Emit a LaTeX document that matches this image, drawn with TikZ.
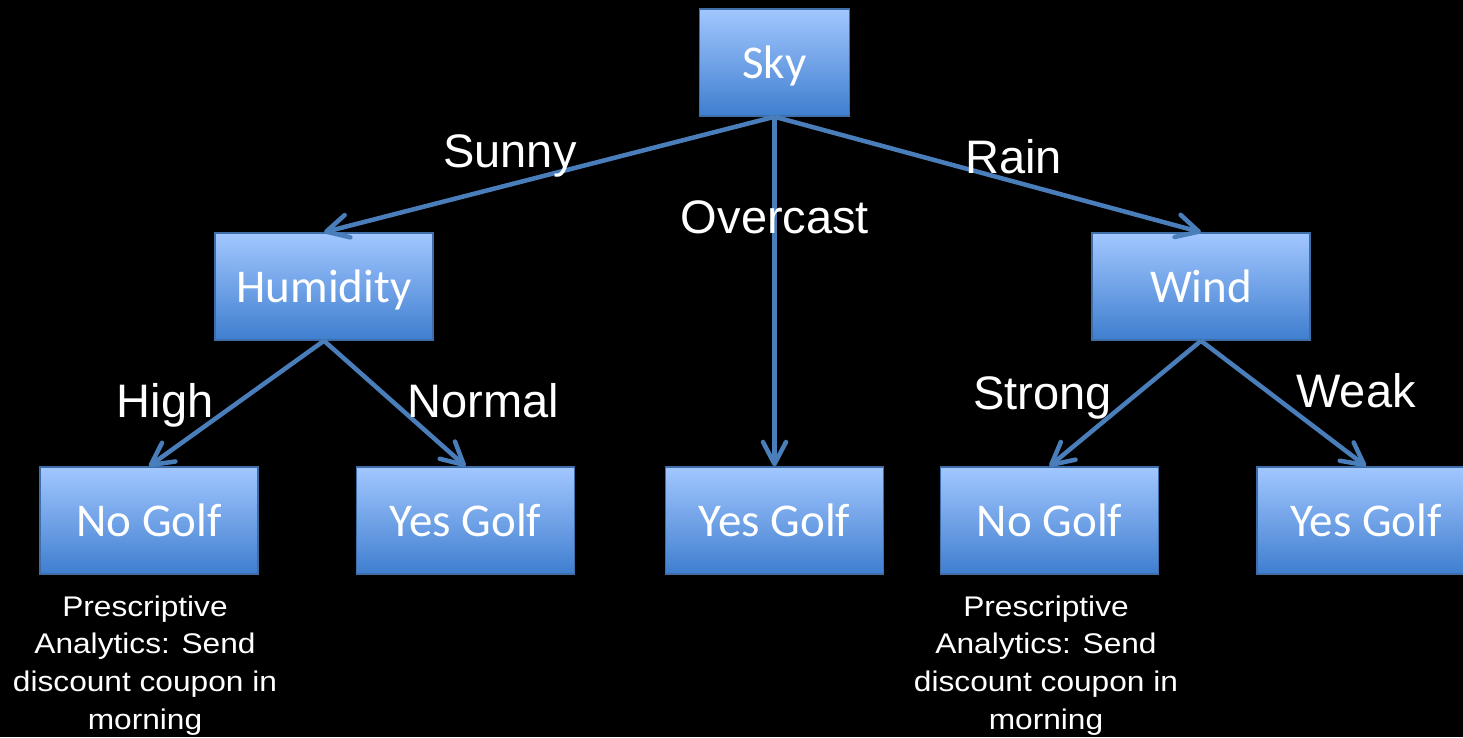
\documentclass[tikz,border=0pt]{standalone}
\usepackage{fontspec}
\setmainfont{Liberation Sans}
\newfontfamily\boxfont{Carlito}
\newfontfamily\notefont[FakeStretch=1.115]{Liberation Sans}
\usetikzlibrary{arrows.meta}
\definecolor{boxtop}{HTML}{A2C7FF}
\definecolor{boxbot}{HTML}{3F7ECF}
\definecolor{boxline}{HTML}{3D6EA8}
\definecolor{arrowc}{HTML}{4A7EBB}
\begin{document}
\begin{tikzpicture}[x=1pt,y=-1pt,
  box/.style={draw=boxline, line width=1.5pt, top color=boxtop, bottom color=boxbot,
    minimum width=218pt, minimum height=107pt, inner sep=0pt, text=white,
    text height=38pt, text depth=6pt,
    font=\boxfont\fontsize{47}{56}\selectfont},
  lab/.style={text=white, anchor=base, inner sep=0pt, font=\fontsize{47}{56}\selectfont},
  note/.style={text=white, anchor=north, inner sep=0pt, align=center,
    font=\notefont\fontsize{28.4}{37.6}\selectfont},
  conn/.style={draw=arrowc, line width=4.5pt, -{Straight Barb[length=22pt,width=23pt,round]}}]
\useasboundingbox (0,0) rectangle (1463,737);
\fill[black] (0,0) rectangle (1463,737);
\clip (0,0) rectangle (1463,737);
% boxes
\node[box, minimum width=150pt] (sky) at (774.5,62.5) {Sky};
\node[box] (hum) at (324,286.5) {Humidity};
\node[box] (wind) at (1201,286.5) {Wind};
\node[box] (ng1) at (149,520.5) {No Golf};
\node[box] (yg2) at (465.5,520.5) {Yes Golf};
\node[box] (yg3) at (774.5,520.5) {Yes Golf};
\node[box] (ng4) at (1049.5,520.5) {No Golf};
\node[box] (yg5) at (1366,520.5) {Yes Golf};
% connectors
\draw[conn] (sky.south) -- (hum.north);
\draw[conn] (sky.south) -- (yg3.north);
\draw[conn] (sky.south) -- (wind.north);
\draw[conn] (hum.south) -- (ng1.north);
\draw[conn] (hum.south) -- (yg2.north);
\draw[conn] (wind.south) -- (ng4.north);
\draw[conn] (wind.south) -- (yg5.north);
% labels
\node[lab] (lsunny) at (510,167) {Sunny};
\node[lab] (lrain) at (1013.5,173) {Rain};
\node[lab] (lover) at (775,233) {Overcast};
\node[lab] (lhigh) at (165,417) {High};
\node[lab] (lnormal) at (483.5,417) {Normal};
\node[lab] (lstrong) at (1042.5,409) {Strong};
\node[lab] (lweak) at (1356,407) {Weak};
% notes
\node[note] (n1) at (145,595.5) {Prescriptive\\Analytics: Send\\discount coupon in\\morning};
\node[note] (n2) at (1046,595.5) {Prescriptive\\Analytics: Send\\discount coupon in\\morning};
\end{tikzpicture}
\end{document}
